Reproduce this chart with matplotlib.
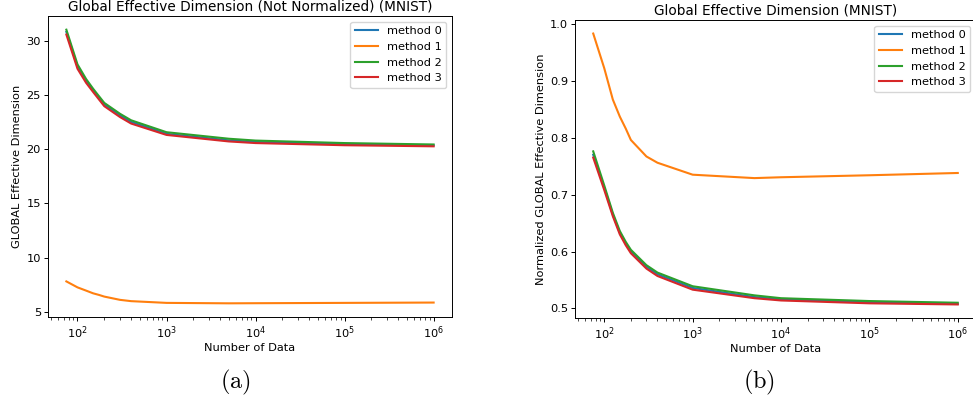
import numpy as np
import matplotlib.pyplot as plt

plt.rcParams['mathtext.fontset'] = 'cm'

n_data = [75, 100, 125, 150, 175, 200, 300, 400, 1000, 5000, 10000, 100000, 1000000]
labels = ["method 0", "method 1", "method 2", "method 3"]

# (a) not normalized
raw_m0 = [30.8, 27.6, 26.3, 25.4, 24.7, 24.1, 23.1, 22.5, 21.4, 20.8, 20.65, 20.45, 20.33]
raw_m1 = [7.8, 7.25, 6.95, 6.7, 6.55, 6.4, 6.1, 5.98, 5.82, 5.78, 5.79, 5.82, 5.85]
raw_m2 = [31.0, 27.8, 26.45, 25.55, 24.85, 24.25, 23.25, 22.65, 21.55, 20.95, 20.78, 20.55, 20.42]
raw_m3 = [30.55, 27.4, 26.1, 25.25, 24.55, 23.95, 22.95, 22.35, 21.3, 20.7, 20.55, 20.35, 20.25]

# (b) normalized
norm_m0 = [0.770, 0.712, 0.665, 0.633, 0.614, 0.600, 0.573, 0.560, 0.536, 0.520, 0.516, 0.511, 0.508]
norm_m1 = [0.983, 0.922, 0.867, 0.837, 0.816, 0.796, 0.767, 0.756, 0.735, 0.729, 0.7305, 0.734, 0.738]
norm_m2 = [0.776, 0.716, 0.668, 0.636, 0.617, 0.603, 0.576, 0.563, 0.539, 0.523, 0.518, 0.513, 0.510]
norm_m3 = [0.765, 0.708, 0.662, 0.630, 0.611, 0.597, 0.570, 0.557, 0.533, 0.518, 0.514, 0.509, 0.507]

W, H = 973, 403
fig = plt.figure(figsize=(W / 100, H / 100), dpi=100)

def px_axes(x0, y0, x1, y1):
    return fig.add_axes([x0 / W, 1 - y1 / H, (x1 - x0) / W, (y1 - y0) / H])

ax1 = px_axes(48, 16, 452, 317)
ax2 = px_axes(575, 20, 976, 318)

fs = 8.2
for ax, series, title, ylabel in [
    (ax1, [raw_m0, raw_m1, raw_m2, raw_m3],
     "Global Effective Dimension (Not Normalized) (MNIST)", "GLOBAL Effective Dimension"),
    (ax2, [norm_m0, norm_m1, norm_m2, norm_m3],
     "Global Effective Dimension (MNIST)", "Normalized GLOBAL Effective Dimension"),
]:
    for vals, lab in zip(series, labels):
        ax.plot(n_data, vals, label=lab, lw=1.5)
    ax.set_xscale("log")
    ax.set_title(title, fontsize=9.8, pad=4)
    ax.set_xlabel("Number of Data", fontsize=fs, labelpad=2)
    ax.set_ylabel(ylabel, fontsize=fs, labelpad=3)
    ax.tick_params(labelsize=fs, length=3, width=0.7, pad=2)
    ax.tick_params(which="minor", length=1.8, width=0.5)
    for s in ax.spines.values():
        s.set_linewidth(0.7)
    ax.legend(loc="upper right", fontsize=fs)

ax1.set_yticks([5, 10, 15, 20, 25, 30])
ax2.set_yticks([0.5, 0.6, 0.7, 0.8, 0.9, 1.0])

fig.text(235 / W, 1 - 382 / H, r"$\mathrm{(a)}$", ha="center", va="center", fontsize=17.5)
fig.text(759 / W, 1 - 382 / H, r"$\mathrm{(b)}$", ha="center", va="center", fontsize=17.5)

fig.savefig("out.png", dpi=100)
